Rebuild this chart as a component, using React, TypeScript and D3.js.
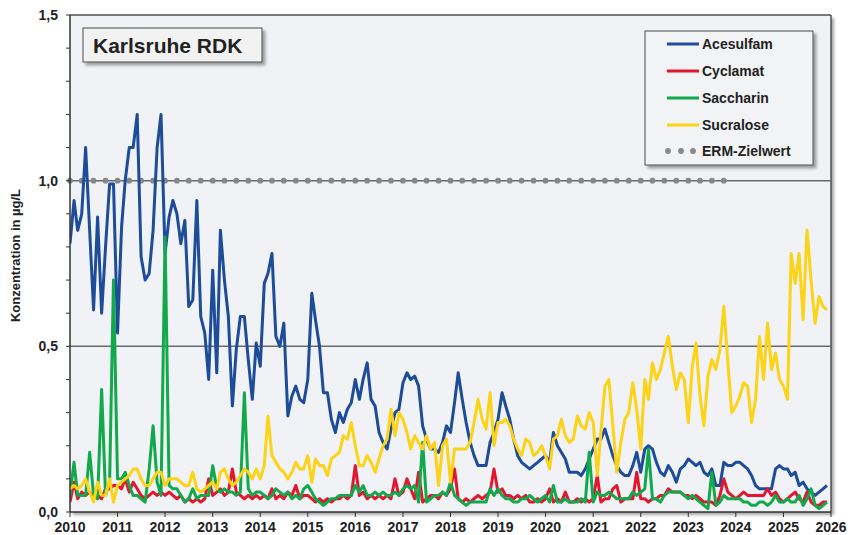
import React from 'react';
import * as d3 from 'd3';

// monthly values Jan 2010 .. Dec 2025 (µg/L)
const acesulfam = [
  0.81, 0.94, 0.85, 0.90, 1.10, 0.85, 0.61, 0.89, 0.60, 0.80, 0.99, 0.99,
  0.54, 0.86, 1.00, 1.10, 1.10, 1.20, 0.77, 0.70, 0.72, 0.85, 1.10, 1.20,
  0.78, 0.89, 0.94, 0.90, 0.81, 0.88, 0.62, 0.64, 0.94, 0.59, 0.54, 0.40,
  0.73, 0.42, 0.85, 0.70, 0.59, 0.32, 0.49, 0.59, 0.59, 0.46, 0.34, 0.51,
  0.44, 0.69, 0.72, 0.78, 0.53, 0.50, 0.57, 0.29, 0.35, 0.38, 0.34, 0.33,
  0.40, 0.66, 0.58, 0.50, 0.36, 0.36, 0.28, 0.24, 0.30, 0.27, 0.31, 0.33,
  0.40, 0.34, 0.40, 0.45, 0.34, 0.32, 0.24, 0.21, 0.19, 0.25, 0.30, 0.31,
  0.39, 0.42, 0.40, 0.41, 0.38, 0.26, 0.22, 0.19, 0.19, 0.18, 0.21, 0.26,
  0.24, 0.33, 0.42, 0.34, 0.27, 0.21, 0.17, 0.14, 0.14, 0.14, 0.21, 0.24,
  0.28, 0.36, 0.32, 0.28, 0.22, 0.17, 0.15, 0.14, 0.13, 0.14, 0.15, 0.16,
  0.17, 0.15, 0.24, 0.20, 0.18, 0.16, 0.12, 0.12, 0.12, 0.11, 0.13, 0.16,
  0.19, 0.22, 0.22, 0.25, 0.21, 0.17, 0.14, 0.12, 0.11, 0.11, 0.14, 0.18,
  0.12, 0.19, 0.20, 0.19, 0.15, 0.12, 0.11, 0.14, 0.12, 0.09, 0.13, 0.14,
  0.16, 0.15, 0.14, 0.15, 0.12, 0.11, 0.13, 0.08, 0.08, 0.15, 0.14, 0.14,
  0.15, 0.15, 0.14, 0.13, 0.11, 0.08, 0.07, 0.07, 0.07, 0.07, 0.13, 0.14,
  0.13, 0.13, 0.11, 0.12, 0.08, 0.09, 0.07, 0.06, 0.05, 0.06, 0.07, 0.08,
];

const cyclamat = [
  0.03, 0.09, 0.04, 0.06, 0.05, 0.06, 0.04, 0.05, 0.04, 0.07, 0.07, 0.08,
  0.08, 0.07, 0.10, 0.06, 0.09, 0.07, 0.05, 0.04, 0.05, 0.06, 0.05, 0.06,
  0.05, 0.06, 0.05, 0.04, 0.05, 0.03, 0.04, 0.03, 0.04, 0.03, 0.04, 0.10,
  0.05, 0.06, 0.07, 0.05, 0.06, 0.13, 0.06, 0.05, 0.04, 0.05, 0.04, 0.05,
  0.04, 0.05, 0.04, 0.07, 0.04, 0.05, 0.04, 0.06, 0.05, 0.08, 0.04, 0.05,
  0.05, 0.04, 0.03, 0.04, 0.03, 0.04, 0.03, 0.04, 0.04, 0.05, 0.04, 0.05,
  0.14, 0.05, 0.06, 0.04, 0.05, 0.04, 0.05, 0.04, 0.05, 0.04, 0.10, 0.05,
  0.06, 0.10, 0.07, 0.04, 0.12, 0.03, 0.04, 0.05, 0.05, 0.04, 0.06, 0.05,
  0.07, 0.13, 0.04, 0.03, 0.04, 0.03, 0.04, 0.05, 0.04, 0.05, 0.06, 0.13,
  0.06, 0.07, 0.05, 0.05, 0.04, 0.05, 0.04, 0.05, 0.03, 0.03, 0.04, 0.03,
  0.04, 0.07, 0.03, 0.04, 0.03, 0.06, 0.03, 0.03, 0.04, 0.03, 0.04, 0.03,
  0.04, 0.11, 0.03, 0.04, 0.04, 0.07, 0.08, 0.03, 0.04, 0.04, 0.04, 0.12,
  0.04, 0.04, 0.03, 0.04, 0.04, 0.05, 0.05, 0.07, 0.06, 0.06, 0.06, 0.05,
  0.05, 0.04, 0.05, 0.04, 0.03, 0.03, 0.03, 0.02, 0.05, 0.10, 0.06, 0.05,
  0.04, 0.05, 0.06, 0.05, 0.05, 0.05, 0.05, 0.05, 0.07, 0.05, 0.06, 0.04,
  0.03, 0.04, 0.05, 0.06, 0.04, 0.03, 0.06, 0.03, 0.02, 0.02, 0.03, 0.03,
];

const saccharin = [
  0.05, 0.15, 0.05, 0.05, 0.05, 0.18, 0.05, 0.04, 0.37, 0.05, 0.09, 0.70,
  0.10, 0.10, 0.12, 0.08, 0.05, 0.05, 0.04, 0.03, 0.13, 0.26, 0.09, 0.05,
  0.83, 0.08, 0.07, 0.07, 0.05, 0.03, 0.04, 0.07, 0.04, 0.05, 0.05, 0.05,
  0.14, 0.07, 0.06, 0.07, 0.06, 0.06, 0.05, 0.06, 0.36, 0.07, 0.05, 0.06,
  0.06, 0.05, 0.04, 0.05, 0.07, 0.06, 0.05, 0.06, 0.04, 0.05, 0.04, 0.07,
  0.08, 0.06, 0.04, 0.03, 0.02, 0.03, 0.04, 0.04, 0.05, 0.05, 0.05, 0.05,
  0.08, 0.06, 0.08, 0.05, 0.05, 0.06, 0.05, 0.06, 0.05, 0.05, 0.06, 0.05,
  0.07, 0.08, 0.07, 0.08, 0.03, 0.21, 0.03, 0.04, 0.05, 0.05, 0.06, 0.05,
  0.09, 0.05, 0.04, 0.03, 0.02, 0.03, 0.03, 0.03, 0.03, 0.03, 0.07, 0.05,
  0.07, 0.05, 0.04, 0.04, 0.03, 0.03, 0.04, 0.04, 0.05, 0.04, 0.03, 0.04,
  0.05, 0.03, 0.08, 0.03, 0.03, 0.04, 0.03, 0.03, 0.03, 0.04, 0.03, 0.18,
  0.03, 0.06, 0.05, 0.05, 0.06, 0.05, 0.04, 0.04, 0.04, 0.04, 0.06, 0.05,
  0.06, 0.07, 0.19, 0.04, 0.04, 0.03, 0.05, 0.06, 0.06, 0.06, 0.06, 0.05,
  0.04, 0.05, 0.04, 0.03, 0.02, 0.01, 0.12, 0.02, 0.03, 0.05, 0.04, 0.04,
  0.04, 0.04, 0.03, 0.03, 0.02, 0.02, 0.03, 0.03, 0.02, 0.03, 0.05, 0.03,
  0.03, 0.04, 0.03, 0.03, 0.05, 0.02, 0.04, 0.07, 0.02, 0.01, 0.02, 0.03,
];

const sucralose = [
  0.07, 0.08, 0.07, 0.08, 0.10, 0.06, 0.03, 0.09, 0.05, 0.05, 0.10, 0.03,
  0.08, 0.09, 0.10, 0.11, 0.13, 0.13, 0.10, 0.08, 0.08, 0.10, 0.12, 0.12,
  0.08, 0.10, 0.10, 0.10, 0.09, 0.08, 0.08, 0.12, 0.07, 0.06, 0.07, 0.08,
  0.09, 0.07, 0.12, 0.13, 0.10, 0.08, 0.09, 0.11, 0.13, 0.12, 0.10, 0.13,
  0.10, 0.14, 0.29, 0.17, 0.15, 0.13, 0.12, 0.10, 0.12, 0.15, 0.13, 0.13,
  0.17, 0.09, 0.16, 0.14, 0.14, 0.11, 0.16, 0.17, 0.18, 0.23, 0.22, 0.27,
  0.20, 0.14, 0.14, 0.17, 0.15, 0.12, 0.16, 0.20, 0.22, 0.31, 0.23, 0.30,
  0.28, 0.24, 0.19, 0.23, 0.21, 0.19, 0.23, 0.19, 0.21, 0.08, 0.20, 0.22,
  0.09, 0.19, 0.19, 0.19, 0.19, 0.21, 0.27, 0.34, 0.28, 0.25, 0.36, 0.20,
  0.27, 0.27, 0.28, 0.26, 0.22, 0.19, 0.17, 0.22, 0.21, 0.17, 0.18, 0.20,
  0.17, 0.13, 0.22, 0.23, 0.28, 0.23, 0.21, 0.22, 0.29, 0.26, 0.25, 0.30,
  0.27, 0.11, 0.24, 0.38, 0.40, 0.26, 0.12, 0.21, 0.28, 0.30, 0.39, 0.31,
  0.19, 0.40, 0.34, 0.45, 0.40, 0.43, 0.48, 0.53, 0.44, 0.37, 0.42, 0.40,
  0.27, 0.44, 0.51, 0.35, 0.26, 0.41, 0.46, 0.43, 0.49, 0.62, 0.45, 0.30,
  0.32, 0.35, 0.39, 0.38, 0.27, 0.34, 0.53, 0.40, 0.57, 0.43, 0.48, 0.40,
  0.38, 0.34, 0.78, 0.69, 0.78, 0.58, 0.85, 0.70, 0.57, 0.65, 0.62, 0.61,
];

const ermValue = 1.0;
const ermFrom = new Date(2010, 0, 1);
const ermTo = new Date(2023, 10, 1);

const series = [
  { name: 'Acesulfam', values: acesulfam, color: '#1d4c98' },
  { name: 'Cyclamat', values: cyclamat, color: '#e2172f' },
  { name: 'Saccharin', values: saccharin, color: '#12a84c' },
  { name: 'Sucralose', values: sucralose, color: '#fdd318' },
];

const years = d3.range(2010, 2027);
const yMajor = [0, 0.5, 1.0, 1.5];

const font = '"Liberation Sans", Arial, sans-serif';

export default function App() {
  const margin = { left: 70, right: 17, top: 15, bottom: 23 };
  const width = 848;
  const height = 535;

  const months = d3.timeMonth.range(new Date(2010, 0, 1), new Date(2026, 0, 1));

  const x = d3
    .scaleTime()
    .domain([new Date(2010, 0, 1), new Date(2026, 0, 1)])
    .range([margin.left, width - margin.right]);
  const y = d3
    .scaleLinear()
    .domain([0, 1.5])
    .range([height - margin.bottom, margin.top]);

  const line = d3
    .line<number>()
    .x((_, i) => x(months[i]))
    .y((d) => y(d));

  const ermDots = d3.timeMonth.every(3)!.range(ermFrom, ermTo);
  const minorTicks = d3.range(0, 15.5).map((d) => d / 10);

  const x0 = margin.left;
  const x1 = width - margin.right;
  const y0 = height - margin.bottom;
  const y1 = margin.top;

  const legendX = 645;
  const legendY = 31;
  const rowY = [44, 71, 98, 125, 151];

  return (
    <svg
      width={width}
      height={height}
      style={{ position: 'absolute', left: 0, top: 0, background: '#fff' }}
      fontFamily={font}
      fontWeight="bold"
    >
      <defs>
        <filter id="shadow" x="-10%" y="-10%" width="130%" height="140%">
          <feDropShadow dx="3" dy="3" stdDeviation="1.5" floodColor="#000" floodOpacity="0.35" />
        </filter>
        <clipPath id="plot">
          <rect x={x0} y={y1} width={x1 - x0} height={y0 - y1} />
        </clipPath>
      </defs>

      {/* plot area */}
      <rect x={x0} y={y1} width={x1 - x0} height={y0 - y1} fill="#f0f2f5" filter="url(#shadow)" />
      <line x1={x0} x2={x1} y1={y1} y2={y1} stroke="#505050" strokeWidth={1.5} />
      <line x1={x1} x2={x1} y1={y1} y2={y0} stroke="#505050" strokeWidth={1.5} />

      {/* grid */}
      {[0.5, 1.0].map((v) => (
        <line key={v} x1={x0} x2={x1} y1={y(v)} y2={y(v)} stroke="#6a6a6a" strokeWidth={1.5} />
      ))}

      {/* ERM-Zielwert */}
      {ermDots.map((d, i) => (
        <circle key={i} cx={x(d)} cy={y(ermValue)} r={2.9} fill="#878787" />
      ))}

      {/* series */}
      <g clipPath="url(#plot)">
        {series.map((s) => (
          <path
            key={s.name}
            d={line(s.values) || ''}
            fill="none"
            stroke={s.color}
            strokeWidth={3}
            strokeLinejoin="round"
          />
        ))}
      </g>

      {/* axes */}
      <line x1={x0} x2={x0} y1={y1} y2={y0} stroke="#333" strokeWidth={1.5} />
      <line x1={x0} x2={x1} y1={y0} y2={y0} stroke="#333" strokeWidth={1.5} />
      {minorTicks.map((v) => (
        <line key={v} x1={x0 - 4} x2={x0} y1={y(v)} y2={y(v)} stroke="#333" strokeWidth={1} />
      ))}
      {yMajor.map((v) => (
        <text key={v} x={x0 - 12} y={y(v) + 5} textAnchor="end" fontSize={14} fill="#222">
          {d3.format('.1f')(v).replace('.', ',')}
        </text>
      ))}
      {years.map((yr) => (
        <g key={yr}>
          <line
            x1={x(new Date(yr, 0, 1))}
            x2={x(new Date(yr, 0, 1))}
            y1={y0}
            y2={y0 + 5}
            stroke="#333"
            strokeWidth={1}
          />
          <text x={x(new Date(yr, 0, 1))} y={y0 + 20} textAnchor="middle" fontSize={14} fill="#222">
            {yr}
          </text>
        </g>
      ))}
      <text
        transform={`translate(20,${(y0 + y1) / 2 - 8}) rotate(-90)`}
        textAnchor="middle"
        fontSize={13}
        fill="#222"
      >
        Konzentration in µg/L
      </text>

      {/* title box */}
      <rect x={83} y={28} width={179} height={34} fill="#f2f2f2" stroke="#4a4a4a" strokeWidth={1} filter="url(#shadow)" />
      <text x={93} y={53} fontSize={21} fill="#222">
        Karlsruhe RDK
      </text>

      {/* legend */}
      <rect
        x={legendX}
        y={legendY}
        width={168}
        height={134}
        fill="#f2f3f5"
        stroke="#4a4a4a"
        strokeWidth={1}
        filter="url(#shadow)"
      />
      {series.map((s, i) => (
        <g key={s.name}>
          <line x1={667} x2={699} y1={rowY[i]} y2={rowY[i]} stroke={s.color} strokeWidth={3} />
          <text x={702} y={rowY[i] + 5} fontSize={14} fill="#222">
            {s.name}
          </text>
        </g>
      ))}
      {[668, 681, 693].map((cx) => (
        <circle key={cx} cx={cx} cy={rowY[4]} r={2.9} fill="#878787" />
      ))}
      <text x={702} y={rowY[4] + 5} fontSize={14} fill="#222">
        ERM-Zielwert
      </text>
    </svg>
  );
}
